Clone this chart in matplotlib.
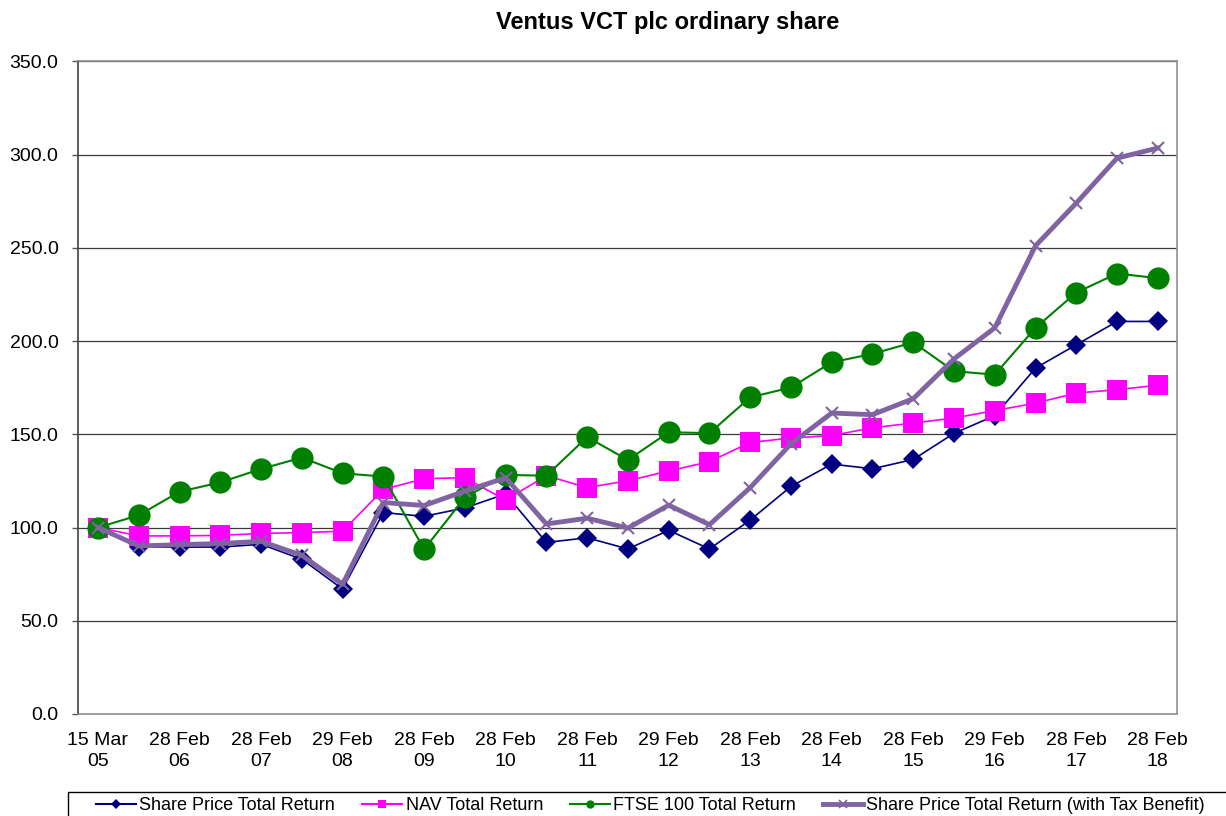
import numpy as np
import matplotlib
matplotlib.use('Agg')
import matplotlib.pyplot as plt
from matplotlib.lines import Line2D
from matplotlib.patches import Rectangle

plt.rcParams['font.family'] = ['Liberation Sans', 'DejaVu Sans']

# Semi-annual points, 15 Mar 05 .. 28 Feb 18 (labels on every second point)
tick_labels = ['15 Mar\n05', '28 Feb\n06', '28 Feb\n07', '29 Feb\n08', '28 Feb\n09',
               '28 Feb\n10', '28 Feb\n11', '29 Feb\n12', '28 Feb\n13', '28 Feb\n14',
               '28 Feb\n15', '29 Feb\n16', '28 Feb\n17', '28 Feb\n18']

share_price = [100.0, 89.5, 89.5, 89.5, 91.0, 83.0, 67.0, 108.0, 106.0, 110.5,
               118.0, 92.0, 94.5, 88.5, 98.5, 88.5, 104.0, 122.0, 134.0, 131.5,
               136.5, 150.5, 160.0, 185.5, 198.0, 210.5, 210.5]
nav = [100.0, 95.5, 95.5, 95.8, 96.8, 97.3, 98.0, 120.4, 126.2, 126.7,
       114.7, 127.8, 121.4, 125.1, 130.3, 135.3, 145.6, 148.0, 149.3, 153.5,
       156.0, 158.7, 162.7, 166.7, 172.1, 173.9, 176.3]
ftse = [100.0, 106.6, 119.2, 124.2, 131.4, 137.5, 129.1, 127.3, 88.3, 116.1,
        128.2, 127.8, 148.5, 136.2, 151.1, 150.6, 169.8, 175.1, 188.6, 193.1,
        199.3, 183.8, 182.0, 207.1, 226.0, 236.2, 233.7]
tax_benefit = [100.0, 90.1, 90.8, 91.4, 92.6, 85.1, 69.5, 113.4, 111.8, 119.5,
               126.7, 101.9, 105.0, 99.7, 112.0, 101.5, 121.4, 144.9, 161.4, 160.5,
               169.1, 190.4, 207.1, 251.1, 274.0, 298.1, 303.5]

series_names = ['Share Price Total Return', 'NAV Total Return',
                'FTSE 100 Total Return', 'Share Price Total Return (with Tax Benefit)']

x = np.arange(len(share_price))

fig = plt.figure(figsize=(12.26, 8.16), dpi=100)
ax = fig.add_axes([78 / 1226, 102 / 816, 1099 / 1226, 652.7 / 816])

# series styles (plot order = draw order)
styles = [
    dict(color='#000080', lw=1.2, marker='D', ms=10, mew=0),
    dict(color='#FF00FF', lw=1.2, marker='s', ms=15, mew=0),
    dict(color='#008000', lw=1.5, marker='o', ms=16, mew=0),
    dict(color='#8064A2', lw=3.5, marker='x', ms=9, mew=1.5),
]
for vals, st in zip([share_price, nav, ftse, tax_benefit], styles):
    ax.plot(x, vals, color=st['color'], linewidth=st['lw'], marker=st['marker'],
            markersize=st['ms'], markeredgewidth=st['mew'],
            markerfacecolor=st['color'], markeredgecolor=st['color'])

ax.set_xlim(-0.49, 26.47)
ax.set_ylim(0, 350)
ax.set_yticks(np.arange(0, 351, 50))
ax.set_yticklabels([f'{v:.1f}' for v in np.arange(0, 351, 50)])
ax.set_xticks(np.arange(0, 27, 2))
ax.set_xticklabels(tick_labels, linespacing=1.3)

ax.grid(True, axis='y', color='#3a3a3a', linewidth=0.9)
ax.set_axisbelow(True)
ax.tick_params(axis='y', direction='out', length=4, width=1, color='#555555',
               labelsize=14, pad=10)
ax.tick_params(axis='x', length=0, labelsize=14, pad=13)

ax.spines['left'].set_color('#404040')
for s in ['right', 'top', 'bottom']:
    ax.spines[s].set_color('#909090')
for s in ax.spines.values():
    s.set_linewidth(1.2)

fig.text(667.5 / 1226, 1 - 23 / 816, 'Ventus VCT plc ordinary share',
         ha='center', va='center', fontsize=17, fontweight='bold')

# legend (small markers, frame runs off the figure edge)
handles = [
    Line2D([], [], color='#000080', lw=1.5, marker='D', ms=5, mew=0),
    Line2D([], [], color='#FF00FF', lw=1.5, marker='s', ms=6, mew=0),
    Line2D([], [], color='#008000', lw=1.5, marker='o', ms=6, mew=0),
    Line2D([], [], color='#8064A2', lw=3.5, marker='x', ms=6, mew=1.2),
]
fig.legend(handles, series_names, loc='center left', ncol=4,
           bbox_to_anchor=(96 / 1226, 1 - 806 / 816), frameon=False,
           fontsize=13, handlelength=2.2, handletextpad=0.2, columnspacing=1.5,
           borderpad=0, borderaxespad=0)
fig.patches.append(Rectangle((68 / 1226, -0.05), 1.0, 0.05 + 24 / 816,
                             transform=fig.transFigure, fill=False,
                             edgecolor='black', linewidth=1.0))

fig.savefig('out.png', dpi=100)
